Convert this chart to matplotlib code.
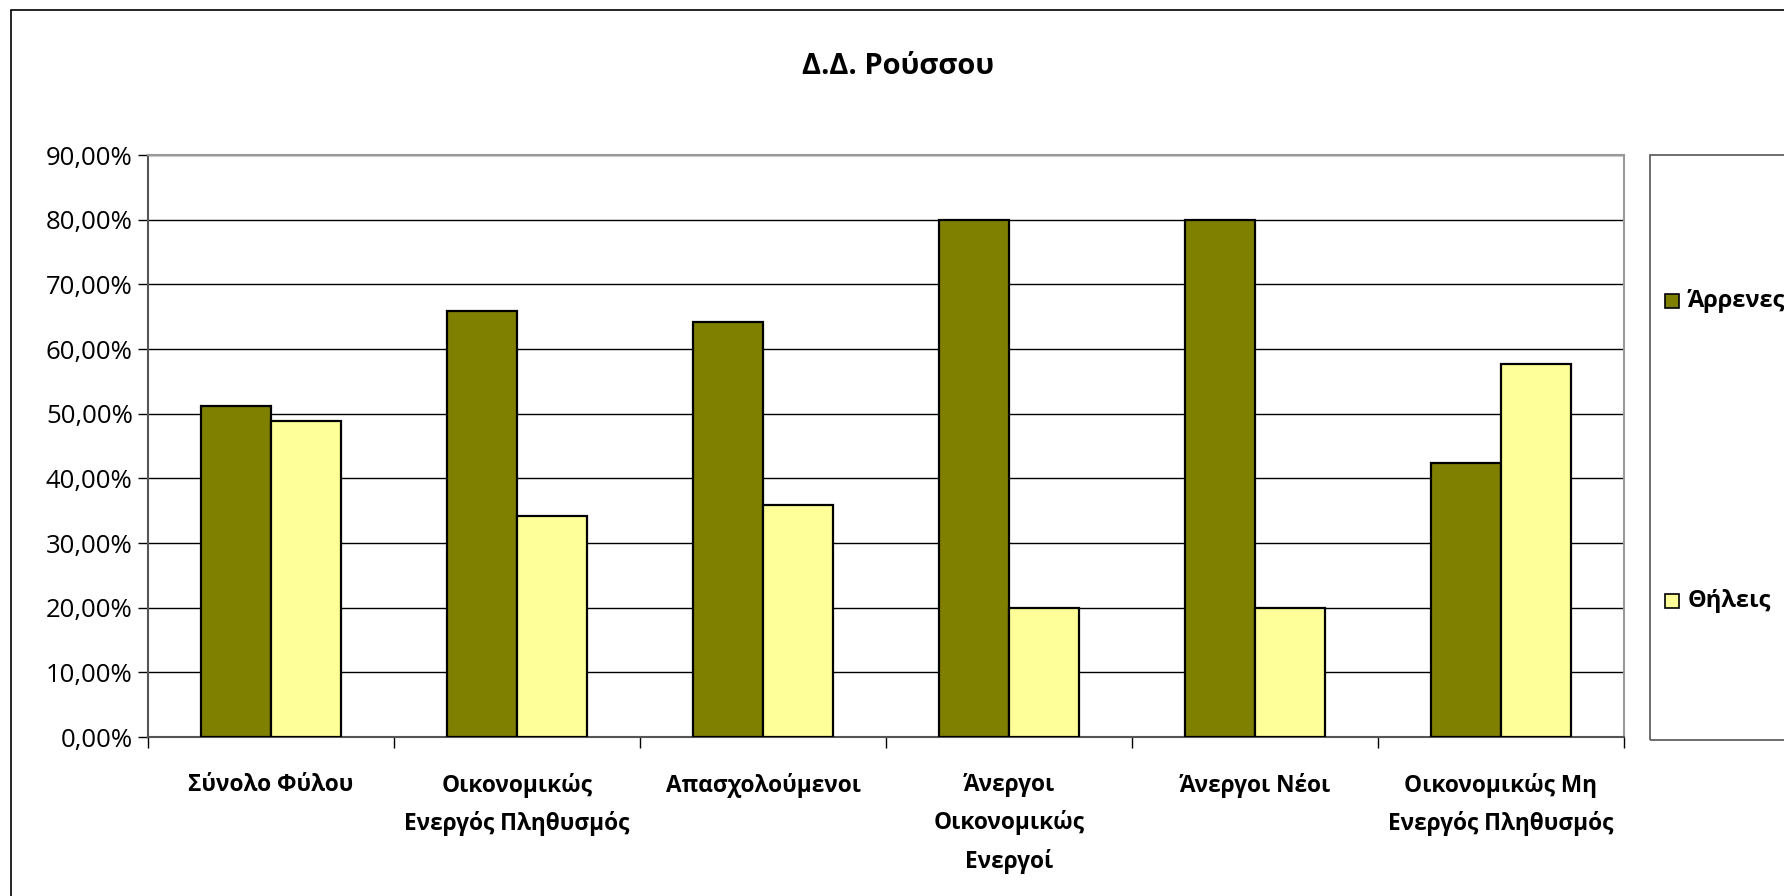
import matplotlib
matplotlib.use("Agg")
import matplotlib.pyplot as plt
import numpy as np
from matplotlib.patches import Rectangle
from matplotlib.ticker import FuncFormatter, MultipleLocator

categories = ["Σύνολο Φύλου", "Οικονομικώς\nΕνεργός Πληθυσμός", "Απασχολούμενοι",
              "Άνεργοι\nΟικονομικώς\nΕνεργοί", "Άνεργοι Νέοι",
              "Οικονομικώς Μη\nΕνεργός Πληθυσμός"]
male = [51.2, 65.9, 64.2, 80.0, 80.0, 42.3]
female = [48.8, 34.1, 35.8, 20.0, 20.0, 57.7]
series = ["Άρρενες", "Θήλεις"]
title = "Δ.Δ. Ρούσσου"
colors = ["#808000", "#FFFF99"]

FONT = "Open Sans"
W, H = 1784, 896
fig = plt.figure(figsize=(W / 100, H / 100), dpi=100)

# outer chart border
fig.patches.append(Rectangle((11 / W, -0.1), 1.2, 1 - 10 / H + 0.1, transform=fig.transFigure,
                             fill=False, edgecolor="black", linewidth=1.2, zorder=0))

L, R, B, T = 148, 1624, 737, 155
ax = fig.add_axes([L / W, 1 - B / H, (R - L) / W, (B - T) / H])
x = np.arange(len(categories))
w = 1 / 3.5
ax.bar(x - w / 2, male, w, color=colors[0], edgecolor="black", linewidth=1.6, zorder=3)
ax.bar(x + w / 2, female, w, color=colors[1], edgecolor="black", linewidth=1.6, zorder=3)
ax.set_xlim(-0.5, len(categories) - 0.5)
ax.set_ylim(0, 90)
ax.yaxis.set_major_locator(MultipleLocator(10))
ax.yaxis.set_major_formatter(FuncFormatter(lambda v, p: f"{v:.2f}%".replace(".", ",")))
ax.grid(axis="y", color="black", linewidth=1.0, zorder=0)
ax.set_axisbelow(True)
for lbl in ax.get_yticklabels():
    lbl.set_fontfamily(FONT)
    lbl.set_fontsize(18.5)
ax.tick_params(axis="y", length=7, width=1, direction="out", pad=4, colors="black")

ax.set_xticks(x)
ax.set_xticklabels(categories, fontweight="bold", fontsize=16.3, family=FONT, linespacing=1.7)
ax.set_xticks(np.arange(-0.5, len(categories)), minor=True)
ax.tick_params(axis="x", which="major", length=0, pad=26)
ax.tick_params(axis="x", which="minor", length=8, width=1, direction="out")
for sp in ["top", "right"]:
    ax.spines[sp].set_color("#999999")
    ax.spines[sp].set_linewidth(1.5)
for sp in ["left", "bottom"]:
    ax.spines[sp].set_color("#555555")
    ax.spines[sp].set_linewidth(1.5)

fig.text(898 / W, 1 - 66 / H, title, ha="center", va="center", fontsize=21,
         fontweight="bold", family=FONT)

# legend box
fig.patches.append(Rectangle((1650 / W, 1 - 740 / H), 0.2, (740 - 155) / H,
                             transform=fig.transFigure, fill=False,
                             edgecolor="#555555", linewidth=1.2))
for name, col, yc in zip(series, colors, [301, 601]):
    fig.patches.append(Rectangle((1665 / W, 1 - (yc + 7) / H), 14 / W, 14 / H,
                                 transform=fig.transFigure, facecolor=col,
                                 edgecolor="black", linewidth=1.2))
    fig.text(1688 / W, 1 - yc / H, name, ha="left", va="center", fontsize=17,
             fontweight="bold", family=FONT)

fig.savefig("out.png", dpi=100)
